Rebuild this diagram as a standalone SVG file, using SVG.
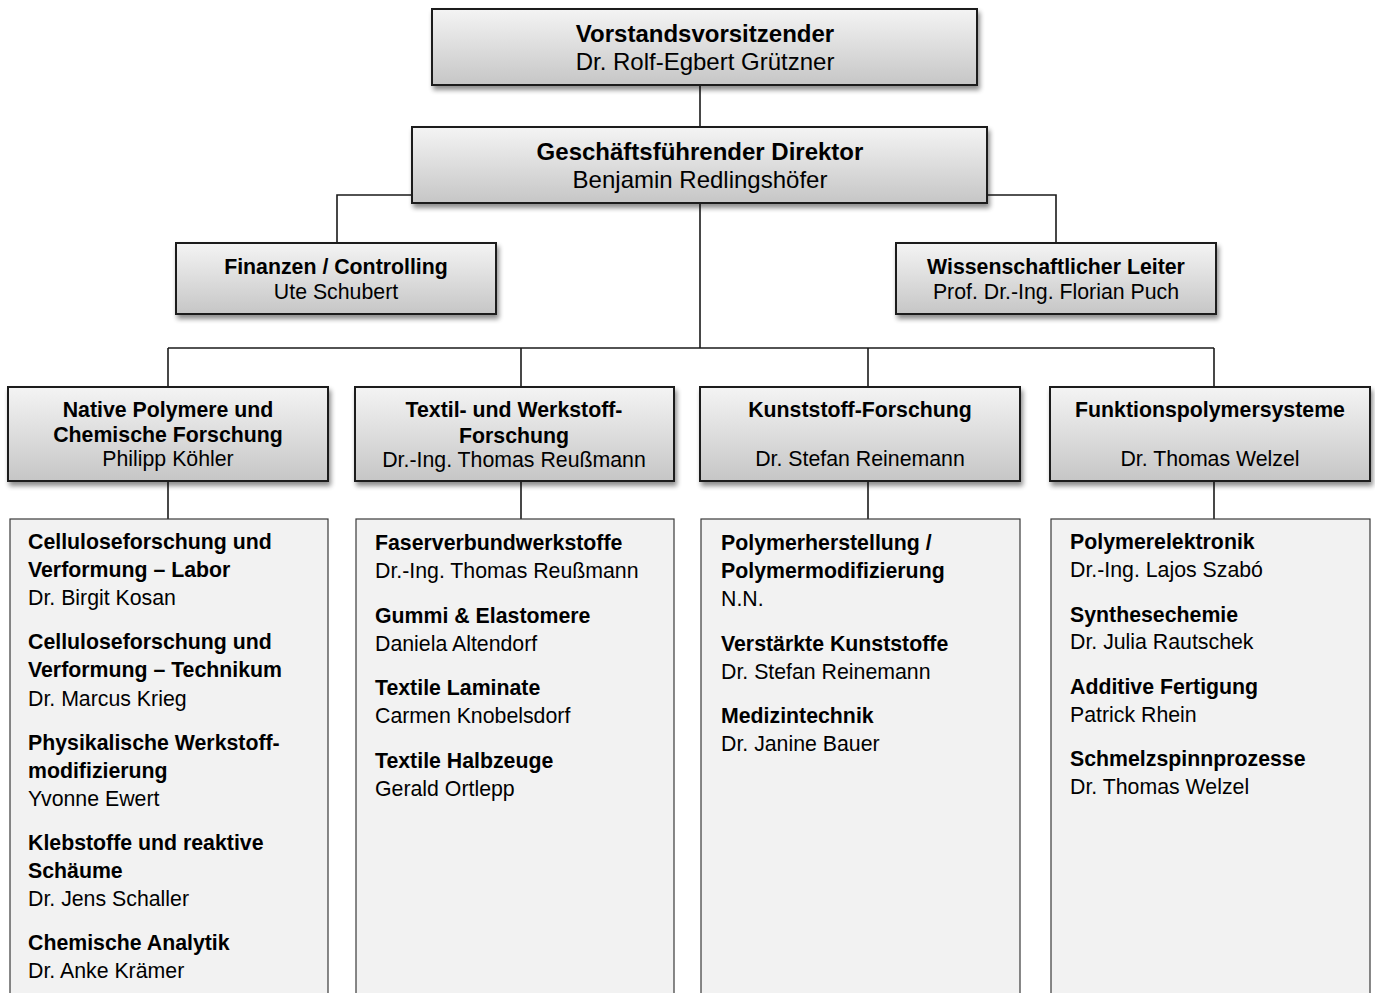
<svg xmlns="http://www.w3.org/2000/svg" width="1375" height="993" viewBox="0 0 1375 993">
<defs>
<linearGradient id="g" x1="0" y1="0" x2="0" y2="1">
<stop offset="0" stop-color="#f4f4f4"/>
<stop offset="1" stop-color="#c6c6c6"/>
</linearGradient>
<filter id="sh" x="-5%" y="-10%" width="115%" height="130%">
<feGaussianBlur in="SourceAlpha" stdDeviation="2.5"/>
<feOffset dx="2" dy="4" result="b"/>
<feComponentTransfer><feFuncA type="linear" slope="0.45"/></feComponentTransfer>
<feMerge><feMergeNode/><feMergeNode in="SourceGraphic"/></feMerge>
</filter>
</defs>
<style>
.box{fill:url(#g);stroke:#1a1a1a;stroke-width:2;filter:url(#sh)}
.list{fill:#f2f2f2;stroke:#3a3a3a;stroke-width:1.2}
.t{font-family:"Liberation Sans",Arial,sans-serif;fill:#000}
.h1{font-size:24px;font-weight:bold;text-anchor:middle}
.s1{font-size:24px;text-anchor:middle}
.h2{font-size:21.3px;font-weight:bold;text-anchor:middle}
.s2{font-size:21.3px;text-anchor:middle}
.b{font-size:21.3px;font-weight:bold}
.n{font-size:21.3px}
.c{fill:none;stroke:#1a1a1a;stroke-width:1.6}
</style>
<g id="connectors">
<line class="c" x1="700" y1="85" x2="700" y2="127"/>
<polyline class="c" points="412,195 337,195 337,243"/>
<polyline class="c" points="987,195 1056,195 1056,243"/>
<line class="c" x1="700" y1="203" x2="700" y2="348"/>
<line class="c" x1="168" y1="348" x2="1214" y2="348"/>
<line class="c" x1="168" y1="348" x2="168" y2="387"/>
<line class="c" x1="521" y1="348" x2="521" y2="387"/>
<line class="c" x1="868" y1="348" x2="868" y2="387"/>
<line class="c" x1="1214" y1="348" x2="1214" y2="387"/>
<line class="c" x1="168" y1="481" x2="168" y2="519"/>
<line class="c" x1="521" y1="481" x2="521" y2="519"/>
<line class="c" x1="868" y1="481" x2="868" y2="519"/>
<line class="c" x1="1214" y1="481" x2="1214" y2="519"/>
</g>
<g id="n-vorstand">
<rect class="box" x="432" y="9" width="545" height="76"/>
<text class="t h1" x="705" y="42">Vorstandsvorsitzender</text>
<text class="t s1" x="705" y="70">Dr. Rolf-Egbert Grützner</text>
</g>
<g id="n-gf">
<rect class="box" x="412" y="127" width="575" height="76"/>
<text class="t h1" x="700" y="160">Geschäftsführender Direktor</text>
<text class="t s1" x="700" y="188">Benjamin Redlingshöfer</text>
</g>
<g id="n-finanzen">
<rect class="box" x="176" y="243" width="320" height="71"/>
<text class="t h2" x="336" y="274">Finanzen / Controlling</text>
<text class="t s2" x="336" y="299">Ute Schubert</text>
</g>
<g id="n-wiss">
<rect class="box" x="896" y="243" width="320" height="71"/>
<text class="t h2" x="1056" y="274">Wissenschaftlicher Leiter</text>
<text class="t s2" x="1056" y="299">Prof. Dr.-Ing. Florian Puch</text>
</g>
<g id="n-native">
<rect class="box" x="8" y="387" width="320" height="94"/>
<text class="t h2" x="168" y="417">Native Polymere und</text>
<text class="t h2" x="168" y="442">Chemische Forschung</text>
<text class="t s2" x="168" y="466">Philipp Köhler</text>
</g>
<g id="n-textil">
<rect class="box" x="355" y="387" width="319" height="94"/>
<text class="t h2" x="514" y="417">Textil- und Werkstoff-</text>
<text class="t h2" x="514" y="443">Forschung</text>
<text class="t s2" x="514" y="467">Dr.-Ing. Thomas Reußmann</text>
</g>
<g id="n-kunststoff">
<rect class="box" x="700" y="387" width="320" height="94"/>
<text class="t h2" x="860" y="417">Kunststoff-Forschung</text>
<text class="t s2" x="860" y="466">Dr. Stefan Reinemann</text>
</g>
<g id="n-funktion">
<rect class="box" x="1050" y="387" width="320" height="94"/>
<text class="t h2" x="1210" y="417">Funktionspolymersysteme</text>
<text class="t s2" x="1210" y="466">Dr. Thomas Welzel</text>
</g>
<g id="n-list1">
<rect class="list" x="10" y="519" width="318" height="480"/>
<text class="t b" x="28" y="549">Celluloseforschung und</text>
<text class="t b" x="28" y="577">Verformung – Labor</text>
<text class="t n" x="28" y="605">Dr. Birgit Kosan</text>
<text class="t b" x="28" y="649">Celluloseforschung und</text>
<text class="t b" x="28" y="677">Verformung – Technikum</text>
<text class="t n" x="28" y="706">Dr. Marcus Krieg</text>
<text class="t b" x="28" y="750">Physikalische Werkstoff-</text>
<text class="t b" x="28" y="778">modifizierung</text>
<text class="t n" x="28" y="806">Yvonne Ewert</text>
<text class="t b" x="28" y="850">Klebstoffe und reaktive</text>
<text class="t b" x="28" y="878">Schäume</text>
<text class="t n" x="28" y="906">Dr. Jens Schaller</text>
<text class="t b" x="28" y="950">Chemische Analytik</text>
<text class="t n" x="28" y="978">Dr. Anke Krämer</text>
</g>
<g id="n-list2">
<rect class="list" x="356" y="519" width="318" height="480"/>
<text class="t b" x="375" y="550">Faserverbundwerkstoffe</text>
<text class="t n" x="375" y="578">Dr.-Ing. Thomas Reußmann</text>
<text class="t b" x="375" y="623">Gummi &amp; Elastomere</text>
<text class="t n" x="375" y="651">Daniela Altendorf</text>
<text class="t b" x="375" y="695">Textile Laminate</text>
<text class="t n" x="375" y="723">Carmen Knobelsdorf</text>
<text class="t b" x="375" y="768">Textile Halbzeuge</text>
<text class="t n" x="375" y="796">Gerald Ortlepp</text>
</g>
<g id="n-list3">
<rect class="list" x="701" y="519" width="319" height="480"/>
<text class="t b" x="721" y="550">Polymerherstellung /</text>
<text class="t b" x="721" y="578">Polymermodifizierung</text>
<text class="t n" x="721" y="606">N.N.</text>
<text class="t b" x="721" y="651">Verstärkte Kunststoffe</text>
<text class="t n" x="721" y="679">Dr. Stefan Reinemann</text>
<text class="t b" x="721" y="723">Medizintechnik</text>
<text class="t n" x="721" y="751">Dr. Janine Bauer</text>
</g>
<g id="n-list4">
<rect class="list" x="1051" y="519" width="319" height="480"/>
<text class="t b" x="1070" y="549">Polymerelektronik</text>
<text class="t n" x="1070" y="577">Dr.-Ing. Lajos Szabó</text>
<text class="t b" x="1070" y="622">Synthesechemie</text>
<text class="t n" x="1070" y="649">Dr. Julia Rautschek</text>
<text class="t b" x="1070" y="694">Additive Fertigung</text>
<text class="t n" x="1070" y="722">Patrick Rhein</text>
<text class="t b" x="1070" y="766">Schmelzspinnprozesse</text>
<text class="t n" x="1070" y="794">Dr. Thomas Welzel</text>
</g>
</svg>
